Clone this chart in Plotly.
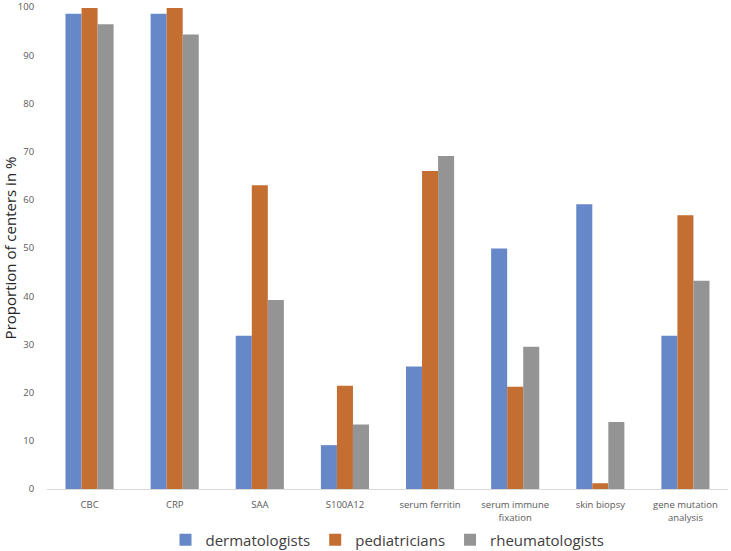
import plotly.graph_objects as go

categories = ["CBC", "CRP", "SAA", "S100A12", "serum ferritin",
              "serum immune<br>fixation", "skin biopsy", "gene mutation<br>analysis"]
dermatologists = [98.6, 98.6, 31.8, 9.1, 25.4, 49.9, 59.1, 31.8]
pediatricians = [99.8, 99.8, 63.0, 21.4, 66.0, 21.2, 1.2, 56.8]
rheumatologists = [96.4, 94.3, 39.2, 13.4, 69.1, 29.5, 13.9, 43.2]
y_ticks = list(range(0, 101, 10))

colors = {"dermatologists": "#6687C8", "pediatricians": "#C46E32", "rheumatologists": "#949494"}

fig = go.Figure()
for name, vals in [("dermatologists", dermatologists),
                   ("pediatricians", pediatricians),
                   ("rheumatologists", rheumatologists)]:
    fig.add_trace(go.Bar(name=name, x=categories, y=vals,
                         marker=dict(color=colors[name], line=dict(width=0))))

fig.update_layout(
    width=731, height=551,
    barmode="group", bargap=0.435, bargroupgap=0,
    plot_bgcolor="white", paper_bgcolor="white",
    margin=dict(l=47, r=3, t=7, b=62),
    font=dict(family="Open Sans, sans-serif", color="#595959"),
    legend=dict(orientation="h", x=0.5, xanchor="center", yref="container", y=0.02,
                yanchor="middle",
                font=dict(size=15, color="#404040"), itemwidth=30, traceorder="normal"),
    xaxis=dict(showline=True, linecolor="#D9D9D9", linewidth=1, showgrid=False,
               tickfont=dict(size=9.5, color="#595959"), ticks="", ticklabelstandoff=7,
               ticklabeloverflow="allow", automargin=False),
    yaxis=dict(range=[0, 100], tickvals=y_ticks, showgrid=False, zeroline=False,
               showline=False, tickfont=dict(size=9.5, color="#595959"),
               ticks="outside", ticklen=10, tickcolor="rgba(0,0,0,0)",
               ticklabeloverflow="allow", automargin=False,
               title=dict(text="Proportion of centers in %", font=dict(size=15, color="#262626"),
                          standoff=6)),
)

fig.write_html("out.html", config={"displayModeBar": False},
               post_script="document.body.style.margin='0';")
